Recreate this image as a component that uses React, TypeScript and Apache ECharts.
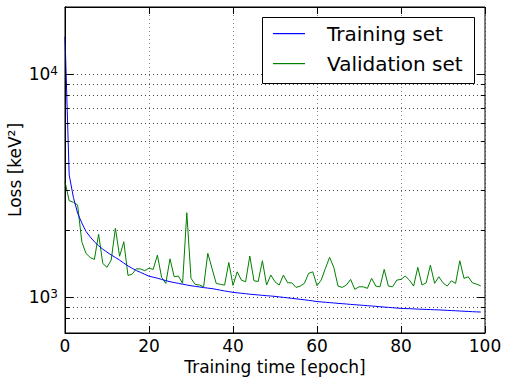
import React, { useEffect, useRef } from "react";
import * as echarts from "echarts";

const epochs: number[] = Array.from({ length: 100 }, (_, i) => i);

const trainingLoss: number[] = [
  14700, 3525, 2800, 2380, 2150, 1970, 1860, 1770, 1700, 1640,
  1590, 1545, 1505, 1465, 1420, 1380, 1345, 1315, 1290, 1265,
  1240, 1228, 1215, 1200, 1185, 1172, 1162, 1152, 1142, 1133,
  1124, 1117, 1110, 1103, 1097, 1091, 1083, 1074, 1065, 1058,
  1050, 1045, 1040, 1035, 1030, 1026, 1022, 1018, 1014, 1011,
  1007, 1002, 997, 992, 987, 982, 977, 972, 967, 961,
  955, 951, 948, 944, 941, 937, 934, 931, 927, 924,
  921, 918, 915, 912, 909, 905, 902, 899, 896, 893,
  890, 888, 887, 885, 883, 882, 880, 879, 877, 876,
  874, 872, 870, 868, 866, 864, 862, 860, 858, 857,
];

const validationLoss: number[] = [
  3290, 2705, 2660, 2590, 1770, 1570, 1505, 1475, 1915, 1415,
  1360, 1465, 2035, 1525, 1770, 1250, 1268, 1340, 1336, 1313,
  1347, 1331, 1542, 1226, 1152, 1485, 1233, 1242, 1152, 2390,
  1213, 1140, 1132, 1112, 1571, 1345, 1152, 1140, 1132, 1430,
  1128, 1298, 1192, 1171, 1527, 1183, 1175, 1455, 1132, 1255,
  1171, 1132, 1255, 1159, 1159, 1105, 1120, 1152, 1277, 1298,
  1125, 1192, 1345, 1507, 1359, 1120, 1105, 1132, 1200, 1083,
  1112, 1112, 1094, 1213, 1120, 1112, 1331, 1120, 1112, 1192,
  1200, 1242, 1192, 1120, 1359, 1132, 1159, 1391, 1152, 1233,
  1159, 1120, 1183, 1152, 1455, 1213, 1233, 1159, 1143, 1122,
];

const xTicks: number[] = [0, 20, 40, 60, 80, 100];
const yMajorTicks: number[] = [1000, 10000];
const yMinorTicks: number[] = [800, 900, 2000, 3000, 4000, 5000, 6000, 7000, 8000, 9000];

const seriesNames = ["Training set", "Validation set"];
const seriesColors = ["#0000ff", "#008000"];

const FONT = "DejaVu Sans";

export default function App() {
  const ref = useRef<HTMLDivElement>(null);
  useEffect(() => {
    if (!ref.current) return;
    const chart = echarts.init(ref.current, null, { renderer: "svg" });

    const gridLines = [...yMinorTicks, ...yMajorTicks].map((v) => ({ yAxis: v }));
    const tickSegs: any[] = [];
    yMinorTicks.forEach((v) => {
      tickSegs.push([{ coord: [0, v] }, { coord: [1, v] }]);
      tickSegs.push([{ coord: [99, v] }, { coord: [100, v] }]);
    });
    yMajorTicks.forEach((v) => {
      tickSegs.push([{ coord: [0, v] }, { coord: [2, v] }]);
      tickSegs.push([{ coord: [98, v] }, { coord: [100, v] }]);
    });

    const yLabelFormatter = (v: number) => {
      const e = Math.log10(v);
      const r = Math.round(e);
      if (Math.abs(e - r) > 1e-6) return "";
      return "{b|10}{s|" + r + "}";
    };

    const xBase = {
      type: "value" as const,
      min: xTicks[0],
      max: xTicks[xTicks.length - 1],
      interval: xTicks[1] - xTicks[0],
      axisLine: { show: true, lineStyle: { color: "#000", width: 1 } },
      axisTick: { show: true, inside: true, length: 7, lineStyle: { color: "#000" } },
    };
    const yBase = {
      type: "log" as const,
      logBase: 10,
      min: 690,
      max: 20000,
      axisLine: { show: true, lineStyle: { color: "#000", width: 1 } },
      axisTick: { show: false },
      splitLine: { show: false },
    };

    chart.setOption({
      animation: false,
      grid: { left: 65, right: 23, top: 7, bottom: 47, show: false, containLabel: false, outerBoundsMode: "none" },
      xAxis: [
        {
          ...xBase,
          position: "bottom",
          name: "Training time [epoch]",
          nameLocation: "middle",
          nameGap: 25,
          nameMoveOverlap: false,
          nameTextStyle: { fontSize: 17, fontFamily: FONT, color: "#000" },
          axisLabel: { fontSize: 17, fontFamily: FONT, color: "#000", margin: 4 },
          splitLine: { show: true, lineStyle: { color: "#888", type: [1, 3], width: 1 } },
        },
        {
          ...xBase,
          position: "top",
          axisLabel: { show: false },
          splitLine: { show: false },
        },
      ],
      yAxis: [
        {
          ...yBase,
          position: "left",
          name: "Loss [keV²]",
          nameLocation: "middle",
          nameGap: 42,
          nameMoveOverlap: false,
          nameTextStyle: { fontSize: 17, fontFamily: FONT, color: "#000" },
          axisLabel: {
            show: true,
            showMinLabel: false,
            showMaxLabel: false,
            margin: 7,
            formatter: yLabelFormatter,
            rich: {
              b: { fontSize: 17, fontFamily: FONT, color: "#000" },
              s: { fontSize: 12, fontFamily: FONT, color: "#000", verticalAlign: "top", padding: [0, 0, 6, 0] },
            },
          },
        },
        {
          ...yBase,
          position: "right",
          axisLabel: { show: false },
        },
      ],
      series: [
        {
          name: seriesNames[0],
          type: "line",
          data: epochs.map((e, i) => [e, trainingLoss[i]]),
          showSymbol: false,
          symbol: "none",
          lineStyle: { color: seriesColors[0], width: 1 },
          itemStyle: { color: seriesColors[0] },
          z: 3,
          markLine: {
            silent: true,
            symbol: "none",
            animation: false,
            label: { show: false },
            lineStyle: { color: "#444", type: [1, 3], width: 1 },
            data: gridLines,
            z: 1,
          },
        },
        {
          name: seriesNames[1],
          type: "line",
          data: epochs.map((e, i) => [e, validationLoss[i]]),
          showSymbol: false,
          symbol: "none",
          lineStyle: { color: seriesColors[1], width: 1 },
          itemStyle: { color: seriesColors[1] },
          z: 2,
          markLine: {
            silent: true,
            symbol: "none",
            animation: false,
            label: { show: false },
            lineStyle: { color: "#000", type: "solid", width: 1 },
            data: tickSegs,
          },
        },
      ],
      graphic: [
        {
          type: "rect",
          shape: { x: 65, y: 7, width: 420, height: 326 },
          style: { fill: "none", stroke: "#000", lineWidth: 1 },
          silent: true,
          z: 10,
        },
        {
          type: "rect",
          shape: { x: 262.5, y: 17.5, width: 212, height: 66 },
          style: { fill: "#fff", stroke: "#000", lineWidth: 1 },
          z: 20,
        },
        {
          type: "rect",
          shape: { x: 273, y: 33, width: 32, height: 1.2 },
          style: { fill: seriesColors[0] },
          z: 21,
        },
        {
          type: "text",
          x: 327,
          y: 33.5,
          style: { text: seriesNames[0], fontSize: 20, fontFamily: FONT, fill: "#000", verticalAlign: "middle" },
          z: 21,
        },
        {
          type: "rect",
          shape: { x: 273, y: 63, width: 32, height: 1.2 },
          style: { fill: seriesColors[1] },
          z: 21,
        },
        {
          type: "text",
          x: 327,
          y: 63.5,
          style: { text: seriesNames[1], fontSize: 20, fontFamily: FONT, fill: "#000", verticalAlign: "middle" },
          z: 21,
        },
      ],
    });
    return () => chart.dispose();
  }, []);
  return (
    <div
      ref={ref}
      style={{ position: "fixed", left: 0, top: 0, width: 508, height: 380, background: "#fff" }}
    />
  );
}
